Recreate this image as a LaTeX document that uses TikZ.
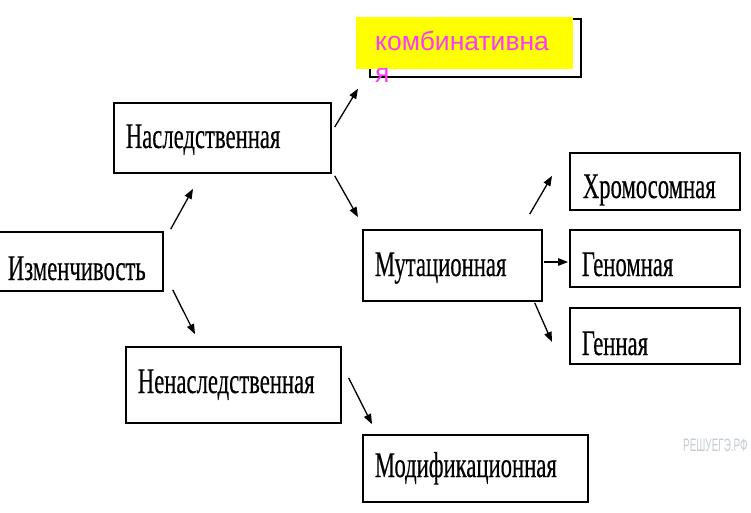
\documentclass[tikz,border=0pt]{standalone}
\usepackage{fontspec}
\setmainfont{Liberation Serif}[FakeStretch=0.63, FakeBold=0.3]
\newfontfamily\notefont{Liberation Sans}
\newfontfamily\stampfont{Liberation Sans}[FakeStretch=0.55]
\usetikzlibrary{arrows.meta,calc}
\definecolor{notepink}{RGB}{250,60,250}
\definecolor{noteyellow}{RGB}{255,255,0}
\definecolor{stampgray}{RGB}{196,204,210}

\begin{document}
\begin{tikzpicture}[x=1pt,y=-1pt,
  box/.style={draw=black, line width=1.7pt, inner xsep=12pt, inner ysep=0pt,
    align=left, anchor=base west, font=\fontsize{36}{40}\selectfont},
  hd/.style 2 args={text height=#1pt, text depth=#2pt},
  tw/.style={text width=#1pt},
  link/.style={line width=1.3pt, -{Triangle[length=10pt,width=7.5pt]}},
]
\useasboundingbox (0,0) rectangle (751,513);

% classification boxes (placed by left edge and text baseline)
\node[box, hd={48}{11}, tw={144}, inner xsep=11pt] (izm)    at (-4,280)  {Изменчивость};
\node[box, hd={45}{25}, tw={193}] (nasl)   at (113,148) {Наследственная};
\node[box, hd={46}{25}, tw={155}] (mut)    at (362,276) {Мутационная};
\node[box, hd={45}{12}, tw={144}, inner xsep=13pt] (chrom) at (569,198) {Хромосомная};
\node[box, hd={46}{11}, tw={146}] (genom)  at (569,276) {Геномная};
\node[box, hd={47}{9},  tw={146}] (gen)    at (569,355) {Генная};
\node[box, hd={46}{30}, tw={191}] (nenasl) at (125,393) {Ненаследственная};
\node[box, hd={42}{25}, tw={201}] (mod)    at (362,477) {Модификационная};

% combinative box with its yellow note laid over it
\node[draw=black, line width=1.7pt, minimum width=211pt, minimum height=58pt,
      inner sep=0pt, anchor=north west] (komb) at (369,18) {};
\node[fill=noteyellow, inner xsep=19pt, inner ysep=0pt, text width=179pt,
      align=left, anchor=base west, hd={34}{18}, text=notepink,
      font=\notefont\fontsize{26.5}{32}\selectfont] (note) at (356,51)
      {комбинативна\\я};

% arrows
\draw[link] ([shift={(7,-2)}]izm.north east)   -- ([shift={(80,15)}]nasl.south west);
\draw[link] ([shift={(9,-2)}]izm.south east)   -- ([shift={(70,-12)}]nenasl.north west);
\draw[link] ([shift={(3,-11)}]nasl.east)       -- ([shift={(-11,11)}]komb.south west);
\draw[link] ([shift={(3,2)}]nasl.south east)   -- ([shift={(-4,-12)}]mut.north west);
\draw[link] ([shift={(-13,-15)}]mut.north east) -- ([shift={(-17,-35)}]chrom.south west);
\draw[link] ([shift={(1,-3.5)}]mut.east)       -- ([shift={(-1,3.5)}]genom.west);
\draw[link] ([shift={(-8,1)}]mut.south east)   -- ([shift={(-17,6)}]gen.west);
\draw[link] ([shift={(7,-7)}]nenasl.east)      -- ([shift={(10,-10)}]mod.north west);

% site stamp
\node[anchor=base west, inner sep=0pt, text=stampgray,
      font=\stampfont\fontsize{18}{20}\selectfont] (stamp) at (683,451) {РЕШУЕГЭ.РФ};
\end{tikzpicture}
\end{document}
